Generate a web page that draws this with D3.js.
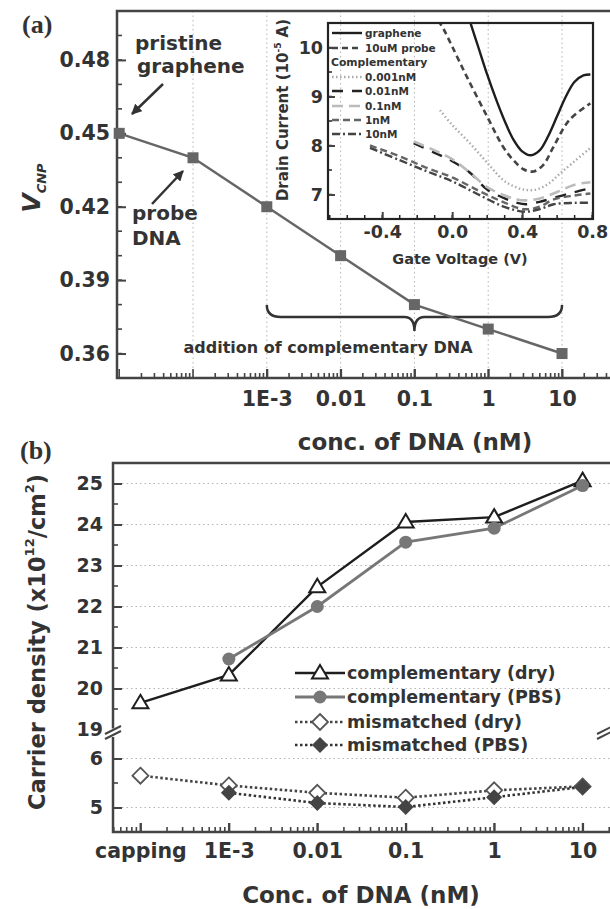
<!DOCTYPE html>
<html><head><meta charset="utf-8">
<script src="https://cdn.jsdelivr.net/npm/d3@7"></script>
<style>
body{margin:0;background:#fff;}
svg text{font-family:"DejaVu Sans",sans-serif;font-weight:bold;fill:#333;}
</style>
</head><body>
<svg id="c" width="610" height="909"></svg>
<script>
// ---------- Panel (a) data ----------
const aConc = [1e-5, 1e-4, 1e-3, 0.01, 0.1, 1, 10];
const aVcnp = [0.45, 0.44, 0.42, 0.40, 0.38, 0.37, 0.36];
const aXTickVals = [1e-3, 0.01, 0.1, 1, 10];
const aXTickLabels = ["1E-3", "0.01", "0.1", "1", "10"];
const aGridVals = [1e-4, 1e-3, 0.01, 0.1, 1, 10];
const aYTicks = [0.36, 0.39, 0.42, 0.45, 0.48];

// ---------- Inset data (gate voltage V, drain current 1e-5 A) ----------
const grapheneV = [0.10,0.15,0.20,0.25,0.30,0.35,0.40,0.45,0.50,0.55,0.60,0.65,0.70,0.75,0.79];
const grapheneI = [10.55,10.0,9.45,8.95,8.5,8.12,7.88,7.8,7.9,8.2,8.6,9.0,9.3,9.43,9.45];
const probeV = [-0.08,-0.05,0.0,0.084,0.2,0.29,0.35,0.41,0.465,0.52,0.58,0.67,0.79];
const probeI = [10.55,10.38,10.02,9.4,8.59,7.98,7.7,7.51,7.47,7.6,7.98,8.52,8.86];
const c0001V = [-0.07,0.0,0.1,0.2,0.29,0.35,0.41,0.48,0.55,0.62,0.7,0.79];
const c0001I = [8.72,8.42,8.05,7.65,7.30,7.17,7.10,7.10,7.22,7.44,7.68,7.95];
const c001V = [-0.22,-0.1,0.0,0.1,0.2,0.3,0.37,0.42,0.5,0.6,0.7,0.79];
const c001I = [8.05,7.85,7.68,7.45,7.1,6.92,6.83,6.8,6.85,6.95,7.05,7.13];
const c01V = [-0.22,-0.1,0.0,0.1,0.2,0.3,0.37,0.42,0.5,0.6,0.7,0.79];
const c01I = [8.08,7.9,7.72,7.45,7.15,6.98,6.9,6.88,6.92,7.05,7.2,7.25];
const c1V = [-0.47,-0.3,-0.15,0.0,0.15,0.29,0.41,0.5,0.58,0.7,0.79];
const c1I = [8.0,7.78,7.55,7.35,7.08,6.85,6.7,6.75,6.9,6.98,7.02];
const c10V = [-0.47,-0.3,-0.15,0.0,0.15,0.29,0.41,0.5,0.58,0.7,0.79];
const c10I = [7.95,7.7,7.48,7.27,7.0,6.76,6.65,6.7,6.8,6.83,6.83];
const insetXTicks = [-0.4, 0.0, 0.4, 0.8];
const insetXLabels = ["-0.4", "0.0", "0.4", "0.8"];
const insetYTicks = [7, 8, 9, 10];

// ---------- Panel (b) data ----------
const bConc = [1e-4, 1e-3, 0.01, 0.1, 1, 10];
const bXLabels = ["capping", "1E-3", "0.01", "0.1", "1", "10"];
const compDry = [19.65, 20.33, 22.48, 24.06, 24.18, 25.07];
const compPBS = [null, 20.72, 22.0, 23.57, 23.91, 24.95];
const misDry = [5.65, 5.45, 5.30, 5.20, 5.35, 5.43];
const misPBS = [null, 5.30, 5.09, 5.01, 5.21, 5.42];
const bYUpperTicks = [19, 20, 21, 22, 23, 24, 25];
const bYLowerTicks = [5, 6];
const bLegend = ["complementary (dry)", "complementary (PBS)", "mismatched (dry)", "mismatched (PBS)"];

const svg = d3.select("#c");
const AX = "#444";

function logMinor(lo, hi) {
  const out = [];
  for (let e = -7; e <= 2; e++) for (let k = 1; k <= 9; k++) {
    const v = k * Math.pow(10, e);
    if (v >= lo && v <= hi) out.push(v);
  }
  return out;
}
function styleAxis(g, fs) {
  g.select(".domain").remove();
  g.attr("font-family", null).attr("font-size", null);
  g.selectAll(".tick line").attr("stroke", AX).attr("stroke-width", 2);
  g.selectAll(".tick text").attr("font-size", fs).attr("fill", "#333");
}

// ================= Panel (a) =================
const xA = d3.scaleLog().domain([Math.pow(10, -5.03), Math.pow(10, 1.65)]).range([117, 610]);
const yA = d3.scaleLinear().domain([0.35, 0.50]).range([378, 11]);
const gA = svg.append("g");

// vertical dotted grid
gA.selectAll(".vg").data(aGridVals).enter().append("line")
  .attr("x1", d => xA(d)).attr("x2", d => xA(d)).attr("y1", yA(0.50)).attr("y2", yA(0.35))
  .attr("stroke", "#b5b5b5").attr("stroke-width", 1).attr("stroke-dasharray", "1.5,3");

// minor ticks
const aXMin = logMinor(xA.domain()[0], xA.domain()[1]);
gA.selectAll(".mx").data(aXMin).enter().append("line")
  .attr("x1", d => xA(d)).attr("x2", d => xA(d)).attr("y1", yA(0.35))
  .attr("y2", d => yA(0.35) - (Math.abs(Math.log10(d) - Math.round(Math.log10(d))) < 1e-9 ? 9 : 5))
  .attr("stroke", AX).attr("stroke-width", 1.6);
const aYMin = d3.range(0.35, 0.5001, 0.01);
gA.selectAll(".my").data(aYMin).enter().append("line")
  .attr("x1", xA.range()[0]).attr("x2", xA.range()[0] + 5).attr("y1", d => yA(d)).attr("y2", d => yA(d))
  .attr("stroke", AX).attr("stroke-width", 1.6);

// axes
const axAx = gA.append("g").attr("transform", `translate(0,${yA(0.35)})`)
  .call(d3.axisBottom(xA).tickValues(aXTickVals).tickFormat((d, i) => aXTickLabels[i]).tickSize(-9).tickPadding(13));
styleAxis(axAx, 20.5);
const axAy = gA.append("g").attr("transform", `translate(${xA.range()[0]},0)`)
  .call(d3.axisLeft(yA).tickValues(aYTicks).tickFormat(d3.format(".2f")).tickSize(-9).tickPadding(7));
styleAxis(axAy, 20.5);

// frame
gA.append("path").attr("d", `M610,${yA(0.5)}H${xA.range()[0]}V${yA(0.35)}H610`)
  .attr("fill", "none").attr("stroke", AX).attr("stroke-width", 2.5);

// brace
(function () {
  const x0 = xA(1e-3), x1 = xA(10), xm = xA(0.1), yt = 305, ym = 317, yc = 331;
  gA.append("path")
    .attr("d", `M${x0},${yt} Q${x0},${ym} ${x0 + 14},${ym} L${xm - 10},${ym} Q${xm},${ym} ${xm},${yc} Q${xm},${ym} ${xm + 10},${ym} L${x1 - 14},${ym} Q${x1},${ym} ${x1},${yt}`)
    .attr("fill", "none").attr("stroke", "#333").attr("stroke-width", 2.5);
})();
gA.append("text").attr("x", 328).attr("y", 347).attr("text-anchor", "middle").attr("dominant-baseline", "central")
  .attr("font-size", 16).text("addition of complementary DNA");

// data line + markers
const lineA = d3.line().x((d, i) => xA(aConc[i])).y(d => yA(d));
gA.append("path").attr("d", lineA(aVcnp)).attr("fill", "none").attr("stroke", "#666").attr("stroke-width", 2.5);
gA.selectAll(".sq").data(aVcnp).enter().append("rect")
  .attr("x", (d, i) => xA(aConc[i]) - 5.5).attr("y", d => yA(d) - 5.5).attr("width", 11).attr("height", 11)
  .attr("fill", "#666");

// annotations
gA.append("text").attr("x", 135).attr("y", 50).attr("font-size", 20).attr("fill", "#444").text("pristine");
gA.append("text").attr("x", 137).attr("y", 73).attr("font-size", 20).attr("fill", "#444").text("graphene");
gA.append("text").attr("x", 132).attr("y", 220).attr("font-size", 20).attr("fill", "#444").text("probe");
gA.append("text").attr("x", 132).attr("y", 245).attr("font-size", 20).attr("fill", "#444").text("DNA");
svg.append("defs").html('<marker id="ah" viewBox="0 0 10 10" refX="9" refY="5" markerWidth="4.2" markerHeight="4.2" orient="auto"><path d="M0,0L10,5L0,10z" fill="#333"/></marker><clipPath id="ic"><rect x="328" y="23" width="265" height="196"/></clipPath>');
gA.append("line").attr("x1", 163).attr("y1", 84).attr("x2", 132).attr("y2", 114)
  .attr("stroke", "#333").attr("stroke-width", 2.5).attr("marker-end", "url(#ah)");
gA.append("line").attr("x1", 152).attr("y1", 204).attr("x2", 183).attr("y2", 171)
  .attr("stroke", "#333").attr("stroke-width", 2.5).attr("marker-end", "url(#ah)");

// panel labels & axis titles
svg.append("text").attr("x", 22).attr("y", 33).attr("font-size", 26)
  .style("font-family", "'Liberation Serif', serif").attr("fill", "#222").text("(a)");
const vl = svg.append("text").attr("transform", "translate(40,188) rotate(-90)").attr("text-anchor", "middle")
  .style("font-style", "italic").attr("font-size", 25);
vl.append("tspan").text("V");
vl.append("tspan").attr("font-size", 13).attr("dy", 6).text("CNP");
svg.append("text").attr("x", 415).attr("y", 442).attr("text-anchor", "middle").attr("dominant-baseline", "central")
  .attr("font-size", 23).text("conc. of DNA (nM)");

// ================= Inset =================
const xI = d3.scaleLinear().domain([-0.71, 0.805]).range([328, 593]);
const yI = d3.scaleLinear().domain([6.5, 10.5]).range([219, 23]);
const gI = svg.append("g");
const iXMin = d3.range(-0.7, 0.8001, 0.1);
gI.selectAll(".imx").data(iXMin).enter().append("line")
  .attr("x1", d => xI(d)).attr("x2", d => xI(d)).attr("y1", yI(6.5)).attr("y2", yI(6.5) - 4)
  .attr("stroke", "#222").attr("stroke-width", 1.5);
gI.selectAll(".imy").data(d3.range(6.5, 10.51, 0.5)).enter().append("line")
  .attr("x1", xI.range()[0]).attr("x2", xI.range()[0] + 4).attr("y1", d => yI(d)).attr("y2", d => yI(d))
  .attr("stroke", "#222").attr("stroke-width", 1.5);
const iax = gI.append("g").attr("transform", `translate(0,${yI(6.5)})`)
  .call(d3.axisBottom(xI).tickValues(insetXTicks).tickFormat((d, i) => insetXLabels[i]).tickSize(-7).tickPadding(7));
styleAxis(iax, 17.5);
const iay = gI.append("g").attr("transform", `translate(${xI.range()[0]},0)`)
  .call(d3.axisLeft(yI).tickValues(insetYTicks).tickFormat(d3.format("d")).tickSize(-7).tickPadding(5));
styleAxis(iay, 17.5);

const inSeries = [
  {V: grapheneV, I: grapheneI, color: "#1e1e1e", dash: null, w: 2.4, label: "graphene"},
  {V: probeV, I: probeI, color: "#444", dash: "6,4", w: 2.6, label: "10uM probe"},
  {V: c0001V, I: c0001I, color: "#aaa", dash: "1.5,2.5", w: 2.4, label: "0.001nM"},
  {V: c001V, I: c001I, color: "#222", dash: "11,9", w: 2.4, label: "0.01nM"},
  {V: c01V, I: c01I, color: "#bbb", dash: "11,6", w: 2.6, label: "0.1nM"},
  {V: c1V, I: c1I, color: "#666", dash: "7,4", w: 2.4, label: "1nM"},
  {V: c10V, I: c10I, color: "#444", dash: "8,3,2,3", w: 2.4, label: "10nM"}
];
const lineI = d3.line().curve(d3.curveCatmullRom.alpha(0.5));
const curves = gI.append("g").attr("clip-path", "url(#ic)");
inSeries.forEach(s => {
  curves.append("path").attr("d", lineI(s.V.map((v, i) => [xI(v), yI(s.I[i])])))
    .attr("fill", "none").attr("stroke", s.color).attr("stroke-width", s.w)
    .attr("stroke-dasharray", s.dash);
});
gI.append("rect").attr("x", 328).attr("y", 23).attr("width", 265).attr("height", 196)
  .attr("fill", "none").attr("stroke", "#222").attr("stroke-width", 2.2);

// inset legend
const legRowsY = [33, 48, 77, 91, 106, 120, 134];
inSeries.forEach((s, i) => {
  gI.append("line").attr("x1", 332).attr("x2", 362).attr("y1", legRowsY[i]).attr("y2", legRowsY[i])
    .attr("stroke", s.color).attr("stroke-width", s.w).attr("stroke-dasharray", s.dash);
  gI.append("text").attr("x", 365).attr("y", legRowsY[i]).attr("dominant-baseline", "central")
    .attr("font-size", 10.5).text(s.label);
});
gI.append("text").attr("x", 331).attr("y", 62).attr("dominant-baseline", "central").attr("font-size", 10.8).text("Complementary");

gI.append("text").attr("x", 460).attr("y", 259).attr("text-anchor", "middle").attr("dominant-baseline", "central")
  .attr("font-size", 14.5).text("Gate Voltage (V)");
const dl = gI.append("text").attr("transform", "translate(283,110) rotate(-90)").attr("text-anchor", "middle")
  .attr("dominant-baseline", "central").attr("font-size", 15);
dl.append("tspan").text("Drain Current (10");
dl.append("tspan").attr("font-size", 9).attr("baseline-shift", "super").text("-5");
dl.append("tspan").text(" A)");

// ================= Panel (b) =================
const xB = d3.scaleLog().domain([Math.pow(10, -4.31), Math.pow(10, 1.31)]).range([113, 610]);
const yBU = d3.scaleLinear().domain([19, 25.5]).range([729.5, 463]);
const yBL = d3.scaleLinear().domain([4.5, 6.5]).range([832, 734]);
const gB = svg.append("g");
const L = xB.range()[0];

// horizontal grid
gB.selectAll(".hgu").data(bYUpperTicks.filter(d => d > 19)).enter().append("line")
  .attr("x1", L).attr("x2", 610).attr("y1", d => yBU(d)).attr("y2", d => yBU(d))
  .attr("stroke", "#b5b5b5").attr("stroke-width", 1).attr("stroke-dasharray", "1.5,3");
gB.selectAll(".hgl").data(bYLowerTicks).enter().append("line")
  .attr("x1", L).attr("x2", 610).attr("y1", d => yBL(d)).attr("y2", d => yBL(d))
  .attr("stroke", "#b5b5b5").attr("stroke-width", 1).attr("stroke-dasharray", "1.5,3");

// minor ticks
const bXMin = logMinor(xB.domain()[0], xB.domain()[1]);
gB.selectAll(".bmx").data(bXMin).enter().append("line")
  .attr("x1", d => xB(d)).attr("x2", d => xB(d)).attr("y1", yBL(4.5))
  .attr("y2", d => yBL(4.5) - (Math.abs(Math.log10(d) - Math.round(Math.log10(d))) < 1e-9 ? 9 : 5))
  .attr("stroke", AX).attr("stroke-width", 1.6);
gB.selectAll(".bmyu").data(d3.range(19.5, 25.01, 1)).enter().append("line")
  .attr("x1", L).attr("x2", L + 5).attr("y1", d => yBU(d)).attr("y2", d => yBU(d))
  .attr("stroke", AX).attr("stroke-width", 1.6);
gB.selectAll(".bmyl").data([5.5]).enter().append("line")
  .attr("x1", L).attr("x2", L + 5).attr("y1", d => yBL(d)).attr("y2", d => yBL(d))
  .attr("stroke", AX).attr("stroke-width", 1.6);

// axes
const bax = gB.append("g").attr("transform", `translate(0,${yBL(4.5)})`)
  .call(d3.axisBottom(xB).tickValues(bConc).tickFormat((d, i) => bXLabels[i]).tickSize(-9).tickPadding(11));
styleAxis(bax, 20.5);
const bayU = gB.append("g").attr("transform", `translate(${L},0)`)
  .call(d3.axisLeft(yBU).tickValues(bYUpperTicks).tickFormat(d3.format("d")).tickSize(-9).tickPadding(10));
styleAxis(bayU, 19);
bayU.selectAll(".tick").filter(d => d === 19).select("line").remove();
const bayL = gB.append("g").attr("transform", `translate(${L},0)`)
  .call(d3.axisLeft(yBL).tickValues(bYLowerTicks).tickFormat(d3.format("d")).tickSize(-9).tickPadding(10));
styleAxis(bayL, 19);

// frame with break
gB.append("path").attr("d", `M610,${yBU(25.5)}H${L}V${yBU(19) - 1}`).attr("fill", "none").attr("stroke", AX).attr("stroke-width", 2.5);
gB.append("path").attr("d", `M${L},${yBL(6.5) + 3}V${yBL(4.5)}H610`).attr("fill", "none").attr("stroke", AX).attr("stroke-width", 2.5);
[[L, 0], [605, 0]].forEach(([x]) => {
  gB.append("line").attr("x1", x - 8).attr("y1", 734).attr("x2", x + 8).attr("y2", 726).attr("stroke", AX).attr("stroke-width", 2);
  gB.append("line").attr("x1", x - 8).attr("y1", 739).attr("x2", x + 8).attr("y2", 731).attr("stroke", AX).attr("stroke-width", 2);
});

// series
const bSeries = [
  {vals: compDry, y: yBU, color: "#1e1e1e", w: 2.4, dash: null, sym: "tri"},
  {vals: compPBS, y: yBU, color: "#777", w: 2.8, dash: null, sym: "circ"},
  {vals: misDry, y: yBL, color: "#444", w: 2.6, dash: "2.5,2.5", sym: "diaO"},
  {vals: misPBS, y: yBL, color: "#333", w: 2.6, dash: "2.5,2.5", sym: "diaF"}
];
function drawSym(g, sym, x, y) {
  if (sym === "tri") {
    g.append("path").attr("d", `M${x},${y - 8}L${x + 8},${y + 5.5}L${x - 8},${y + 5.5}Z`)
      .attr("fill", "#fff").attr("stroke", "#1e1e1e").attr("stroke-width", 2);
  } else if (sym === "circ") {
    g.append("circle").attr("cx", x).attr("cy", y).attr("r", 6.5).attr("fill", "#777");
  } else if (sym === "diaO") {
    g.append("path").attr("d", `M${x},${y - 8}L${x + 8},${y}L${x},${y + 8}L${x - 8},${y}Z`)
      .attr("fill", "#fff").attr("stroke", "#555").attr("stroke-width", 1.8);
  } else {
    g.append("path").attr("d", `M${x},${y - 8}L${x + 8},${y}L${x},${y + 8}L${x - 8},${y}Z`)
      .attr("fill", "#444");
  }
}
bSeries.forEach(s => {
  const ln = d3.line().defined(d => d != null).x((d, i) => xB(bConc[i])).y(d => s.y(d));
  gB.append("path").attr("d", ln(s.vals)).attr("fill", "none").attr("stroke", s.color)
    .attr("stroke-width", s.w).attr("stroke-dasharray", s.dash);
});
bSeries.forEach(s => {
  s.vals.forEach((v, i) => { if (v != null) drawSym(gB, s.sym, xB(bConc[i]), s.y(v)); });
});

// legend b
const bLegY = [673, 697, 722, 745];
bSeries.forEach((s, i) => {
  gB.append("line").attr("x1", 295).attr("x2", 345).attr("y1", bLegY[i]).attr("y2", bLegY[i])
    .attr("stroke", s.color).attr("stroke-width", s.w).attr("stroke-dasharray", s.dash);
  drawSym(gB, s.sym, 320, bLegY[i]);
  gB.append("text").attr("x", 347).attr("y", bLegY[i]).attr("dominant-baseline", "central")
    .attr("font-size", 17.5).text(bLegend[i]);
});

svg.append("text").attr("x", 20).attr("y", 459).attr("font-size", 26)
  .style("font-family", "'Liberation Serif', serif").attr("fill", "#222").text("(b)");
const cl = svg.append("text").attr("transform", "translate(37,642) rotate(-90)").attr("text-anchor", "middle")
  .attr("dominant-baseline", "central").attr("font-size", 22.5);
cl.append("tspan").text("Carrier density (x10");
cl.append("tspan").attr("font-size", 13).attr("baseline-shift", "super").text("12");
cl.append("tspan").text("/cm");
cl.append("tspan").attr("font-size", 13).attr("baseline-shift", "super").text("2");
cl.append("tspan").text(")");
svg.append("text").attr("x", 361).attr("y", 895).attr("text-anchor", "middle").attr("dominant-baseline", "central")
  .attr("font-size", 23).text("Conc. of DNA (nM)");
</script>
</body></html>
